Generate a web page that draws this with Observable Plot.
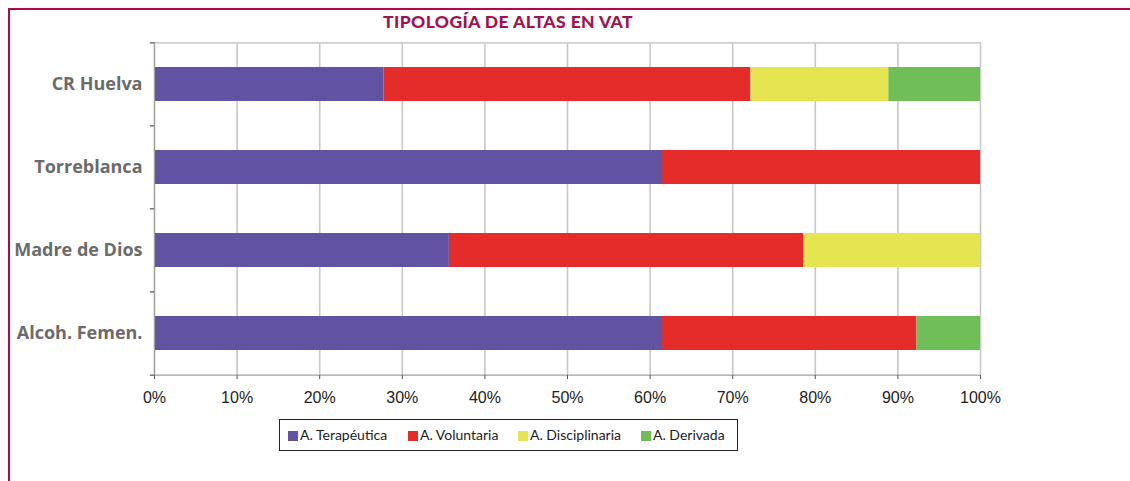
<!DOCTYPE html>
<html>
<head>
<meta charset="utf-8">
<script src="https://cdn.jsdelivr.net/npm/d3@7"></script>
<script src="https://cdn.jsdelivr.net/npm/@observablehq/plot@0.6"></script>
<style>
  html, body { margin: 0; padding: 0; background: #fff; }
  #wrap { position: relative; width: 1130px; height: 481px; overflow: hidden; background: #fff; }
  #frameTop { position: absolute; left: 8px; top: 8px; width: 1122px; height: 0; border-top: 2.5px solid #b0084c; }
  #frameLeft { position: absolute; left: 7.5px; top: 8px; width: 0; height: 473px; border-left: 2.5px solid #b0084c; }
  #title { position: absolute; left: 0; width: 1016px; top: 11px; text-align: center;
           font-family: Lato, "Open Sans", sans-serif; font-weight: 900; font-size: 17.5px; color: #a3124f; letter-spacing: 0.4px; }
  #chart { position: absolute; left: 0; top: 0; }
  #legend { position: absolute; left: 279px; top: 419px; width: 457px; height: 30px; border: 1.2px solid #222;
            font-family: Lato, "Open Sans", sans-serif; font-size: 14px; color: #222; }
  .item { position: absolute; top: 6px; white-space: nowrap; }
  .sw { display: inline-block; width: 10px; height: 10px; margin-right: 2px; vertical-align: -1px; }
</style>
</head>
<body>
<div id="wrap">
  <div id="chart"></div>
  <div id="frameTop"></div>
  <div id="frameLeft"></div>
  <div id="title"></div>
  <div id="legend"></div>
</div>
<script>
const titleText = "TIPOLOGÍA DE ALTAS EN VAT";
const sites = ["CR Huelva", "Torreblanca", "Madre de Dios", "Alcoh. Femen."];
const types = ["A. Terapéutica", "A. Voluntaria", "A. Disciplinaria", "A. Derivada"];
const colors = ["#6153a2", "#e42d2b", "#e5e552", "#6fbe57"];
const terapeutica = [27.8, 61.5, 35.7, 61.5];
const voluntaria = [44.4, 38.5, 42.9, 30.8];
const disciplinaria = [16.7, 0, 21.4, 0];
const derivada = [11.1, 0, 0, 7.7];
const xTicks = [0, 10, 20, 30, 40, 50, 60, 70, 80, 90, 100];

const series = [terapeutica, voluntaria, disciplinaria, derivada];
const data = [];
sites.forEach((s, i) => types.forEach((t, j) => data.push({site: s, type: t, value: series[j][i]})));

document.getElementById("title").textContent = titleText;

const marginTop = 42, marginBottom = 106, H = 481;
const step = (H - marginTop - marginBottom) / sites.length;

const plot = Plot.plot({
  width: 1130,
  height: H,
  marginTop,
  marginBottom,
  marginLeft: 154,
  marginRight: 150,
  style: {fontFamily: "'Liberation Sans', Arial, sans-serif", background: "transparent", overflow: "visible"},
  x: {domain: [0, 100], axis: null},
  y: {domain: sites, paddingInner: 0.59, paddingOuter: 0.295, axis: null},
  color: {domain: types, range: colors},
  marks: [
    Plot.gridX(xTicks, {stroke: "#c8c8c8", strokeOpacity: 1, strokeWidth: 1.6}),
    Plot.ruleY([sites[0]], {x1: 0, x2: 100, dy: -step / 2, stroke: "#cfcfcf", strokeWidth: 1.6}),
    Plot.barX(data, Plot.stackX({x: "value", y: "site", fill: "type", order: types})),
    Plot.ruleX([0], {stroke: "#a0a0a0", strokeWidth: 1.2}),
    Plot.ruleY([sites[sites.length - 1]], {x1: 0, x2: 100, dy: step / 2, stroke: "#a0a0a0", strokeWidth: 1.2}),
    // y-axis boundary tick marks
    Plot.ruleY(sites, {x1: -0.5, x2: 0, dy: -step / 2, stroke: "#555", strokeWidth: 1.2}),
    Plot.ruleY([sites[sites.length - 1]], {x1: -0.5, x2: 0, dy: step / 2, stroke: "#555", strokeWidth: 1.2}),
    Plot.axisY({label: null, tickSize: 0, tickPadding: 12, fontSize: 18, fontWeight: "bold", fill: "#6b6b6b",
                fontFamily: "'Open Sans', Lato, sans-serif"}),
    Plot.axisX(xTicks, {label: null, tickSize: 4, tickPadding: 12, fontSize: 16, fill: "#222", stroke: "#555",
                        tickFormat: d => d + "%"})
  ]
});
document.getElementById("chart").appendChild(plot);

const legend = document.getElementById("legend");
const lefts = [8, 128, 238, 361];
types.forEach((t, i) => {
  const it = document.createElement("div");
  it.className = "item";
  it.style.left = lefts[i] + "px";
  const sw = document.createElement("span");
  sw.className = "sw";
  sw.style.background = colors[i];
  it.appendChild(sw);
  it.appendChild(document.createTextNode(t));
  legend.appendChild(it);
});
</script>
</body>
</html>
